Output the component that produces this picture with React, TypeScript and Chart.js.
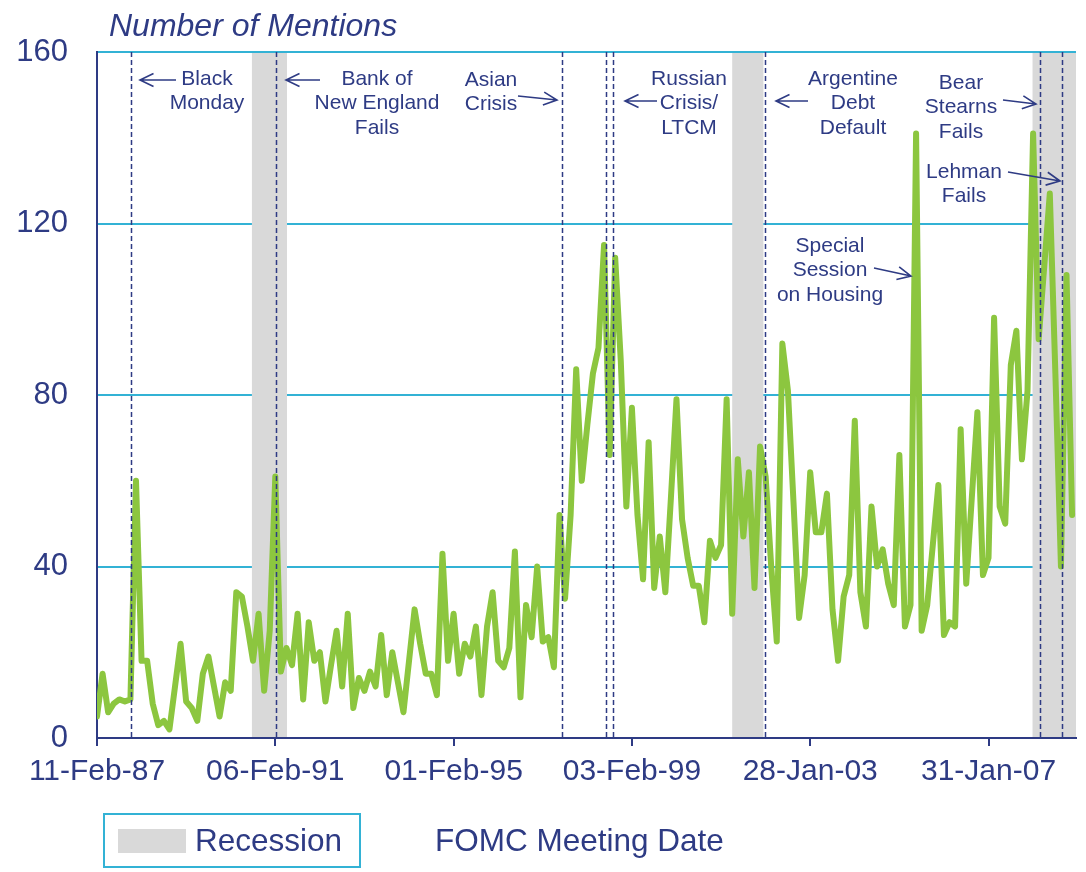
import React, { useEffect, useRef } from "react";
import { Chart, registerables } from "chart.js";

Chart.register(...registerables);

// ---- data ----
const mentions: number[] = [
  5, 15, 6, 8, 9, 8.5, 9, 60, 18, 18,
  8, 3, 4, 2, 12, 22, 8.5, 7, 4, 15,
  19, 12, 5, 13, 11, 34, 33, 26, 18, 29,
  11, 25, 61, 15.5, 21, 17, 29, 9, 27, 18,
  20, 8.5, 17, 25, 12, 29, 7, 14, 11, 15.5,
  12, 24, 10, 20, 13, 6, 18, 30, 22, 15,
  15, 10, 43, 18, 29, 15, 22, 19, 26, 10,
  26, 34, 18, 16.5, 21, 43.5, 9.5, 31, 23.5, 40,
  22.5, 23.5, 16.5, 52, 32.5, 52, 86, 60, 73, 85,
  91, 115, 66, 112, 88, 54, 77, 52, 37, 69,
  35, 47, 34, 56, 79, 51, 42, 35.5, 35.5, 27,
  46, 42, 45, 79, 29, 65, 47, 62, 35, 68,
  61, 40, 22.5, 92, 81, 55, 28, 38, 62, 48,
  48, 57, 30, 18, 33, 38, 74, 34, 26, 54,
  40, 44, 36, 31, 66, 26, 31, 141, 25, 31,
  45, 59, 24, 27, 26, 72, 36, 56, 76, 38,
  42, 98, 54, 50, 87, 95, 65, 81, 141, 93,
  110, 127, 85, 40, 108, 52,
];

const xTickIndex: number[] = [0, 32, 64, 96, 128, 160];
const xTickLabels: string[] = ["11-Feb-87", "06-Feb-91", "01-Feb-95", "03-Feb-99", "28-Jan-03", "31-Jan-07"];

const recessionStart: number[] = [27.8, 114, 167.9];
const recessionEnd: number[] = [34.1, 119.6, 175.7];

// events: Black Monday, Bank of New England, Asian Crisis, Russian Crisis, LTCM, Argentine Default, Bear Stearns, Lehman
const eventIndex: number[] = [6.1, 32.1, 83.5, 91.4, 92.6, 119.9, 169.3, 173.2];

const annotationTexts: string[][] = [
  ["Black", "Monday"],
  ["Bank of", "New England", "Fails"],
  ["Asian", "Crisis"],
  ["Russian", "Crisis/", "LTCM"],
  ["Argentine", "Debt", "Default"],
  ["Bear", "Stearns", "Fails"],
  ["Lehman", "Fails"],
  ["Special", "Session", "on Housing"],
];

const titleText = "Number of Mentions";
const xAxisTitle = "FOMC Meeting Date";
const recessionLabel = "Recession";

// ---- styles / layout ----
const NAVY = "#2E3B84";
const GREEN = "#8CC63F";
const CYAN = "#33B2D5";
const GREY = "#D9D9D9";
const FONT = '"Liberation Sans", Arial, sans-serif';

const annotationLayout = [
  { x: 207, y: 79, tail: [176, 80], tip: [140, 80] },
  { x: 377, y: 79, tail: [320, 80], tip: [286, 80] },
  { x: 491, y: 80, tail: [518, 96], tip: [557, 100] },
  { x: 689, y: 79, tail: [657, 101], tip: [625, 101] },
  { x: 853, y: 79, tail: [808, 101], tip: [776, 101] },
  { x: 961, y: 83, tail: [1003, 100], tip: [1036, 104] },
  { x: 964, y: 172, tail: [1008, 172], tip: [1060, 181] },
  { x: 830, y: 246, tail: [874, 268], tip: [911, 276] },
];

function drawArrow(ctx: CanvasRenderingContext2D, x1: number, y1: number, x2: number, y2: number) {
  const ang = Math.atan2(y2 - y1, x2 - x1);
  const len = 15;
  const spread = 0.45;
  ctx.beginPath();
  ctx.moveTo(x1, y1);
  ctx.lineTo(x2, y2);
  ctx.moveTo(x2 - len * Math.cos(ang - spread), y2 - len * Math.sin(ang - spread));
  ctx.lineTo(x2, y2);
  ctx.lineTo(x2 - len * Math.cos(ang + spread), y2 - len * Math.sin(ang + spread));
  ctx.stroke();
}

const overlayPlugin = {
  id: "overlays",
  beforeDatasetsDraw(chart: any) {
    const { ctx, chartArea, scales } = chart;
    ctx.save();
    ctx.fillStyle = GREY;
    for (let i = 0; i < recessionStart.length; i++) {
      const a = scales.x.getPixelForValue(recessionStart[i]);
      const b = Math.min(scales.x.getPixelForValue(recessionEnd[i]), chartArea.right);
      ctx.fillRect(a, chartArea.top + 1, b - a, chartArea.bottom - chartArea.top - 2);
    }
    ctx.restore();
  },
  afterDatasetsDraw(chart: any) {
    const { ctx, chartArea, scales } = chart;
    ctx.save();
    ctx.strokeStyle = NAVY;
    ctx.lineWidth = 1.5;
    ctx.setLineDash([5, 3]);
    eventIndex.forEach((v) => {
      const x = Math.round(scales.x.getPixelForValue(v)) + 0.5;
      ctx.beginPath();
      ctx.moveTo(x, chartArea.top);
      ctx.lineTo(x, chartArea.bottom);
      ctx.stroke();
    });
    ctx.restore();
  },
  afterDraw(chart: any) {
    const { ctx } = chart;
    ctx.save();
    // title
    ctx.fillStyle = NAVY;
    ctx.font = `italic 32px ${FONT}`;
    ctx.textAlign = "left";
    ctx.textBaseline = "middle";
    ctx.fillText(titleText, 109, 27);

    // annotations
    ctx.font = `21px ${FONT}`;
    ctx.textAlign = "center";
    ctx.strokeStyle = NAVY;
    ctx.lineWidth = 1.6;
    annotationTexts.forEach((lines, i) => {
      const L = annotationLayout[i];
      lines.forEach((t, j) => ctx.fillText(t, L.x, L.y + j * 24.5));
      drawArrow(ctx, L.tail[0], L.tail[1], L.tip[0], L.tip[1]);
    });

    // legend
    ctx.strokeStyle = CYAN;
    ctx.lineWidth = 2;
    ctx.strokeRect(104, 814, 256, 53);
    ctx.fillStyle = GREY;
    ctx.fillRect(118, 829, 68, 24);
    ctx.fillStyle = NAVY;
    ctx.font = `31.5px ${FONT}`;
    ctx.textAlign = "left";
    ctx.textBaseline = "middle";
    ctx.fillText(recessionLabel, 195, 842);
    ctx.fillText(xAxisTitle, 435, 842);
    ctx.restore();
  },
};

export default function App() {
  const ref = useRef<HTMLCanvasElement | null>(null);
  useEffect(() => {
    if (!ref.current) return;
    const chart = new Chart(ref.current, {
      type: "line",
      data: {
        datasets: [
          {
            data: mentions.map((v, i) => ({ x: i, y: v })),
            borderColor: GREEN,
            borderWidth: 6,
            pointRadius: 0,
            tension: 0,
            borderJoinStyle: "round",
            borderCapStyle: "round",
            fill: false,
          },
        ],
      },
      options: {
        animation: false,
        responsive: false,
        devicePixelRatio: 1,
        layout: { padding: { top: 52, right: 10, left: 0, bottom: 0 } },
        plugins: { legend: { display: false }, tooltip: { enabled: false }, title: { display: false } },
        scales: {
          x: {
            type: "linear",
            min: 0,
            max: 175.7,
            afterBuildTicks: (s: any) => {
              s.ticks = xTickIndex.map((v) => ({ value: v }));
            },
            afterFit: (s: any) => {
              s.height = 134;
            },
            ticks: {
              autoSkip: false,
              maxRotation: 0,
              minRotation: 0,
              padding: 8,
              color: NAVY,
              font: { family: FONT, size: 30 },
              callback: (v: any) => {
                const k = xTickIndex.indexOf(Number(v));
                return k >= 0 ? xTickLabels[k] : "";
              },
            },
            grid: { drawOnChartArea: false, drawTicks: true, tickLength: 8, color: NAVY, lineWidth: 2 },
            border: { color: NAVY, width: 2 },
          },
          y: {
            min: 0,
            max: 160,
            afterFit: (s: any) => {
              s.width = 97;
            },
            ticks: { stepSize: 40, padding: 29, color: NAVY, font: { family: FONT, size: 31 } },
            grid: {
              color: (c: any) => (c.tick && c.tick.value === 0 ? "rgba(0,0,0,0)" : CYAN),
              lineWidth: 2,
              drawTicks: false,
            },
            border: { color: NAVY, width: 2 },
          },
        },
      },
      plugins: [overlayPlugin],
    } as any);
    return () => chart.destroy();
  }, []);
  return (
    <div style={{ position: "absolute", left: 0, top: 0, width: 1086, height: 872, background: "#fff" }}>
      <canvas ref={ref} width={1086} height={872} style={{ display: "block" }} />
    </div>
  );
}
